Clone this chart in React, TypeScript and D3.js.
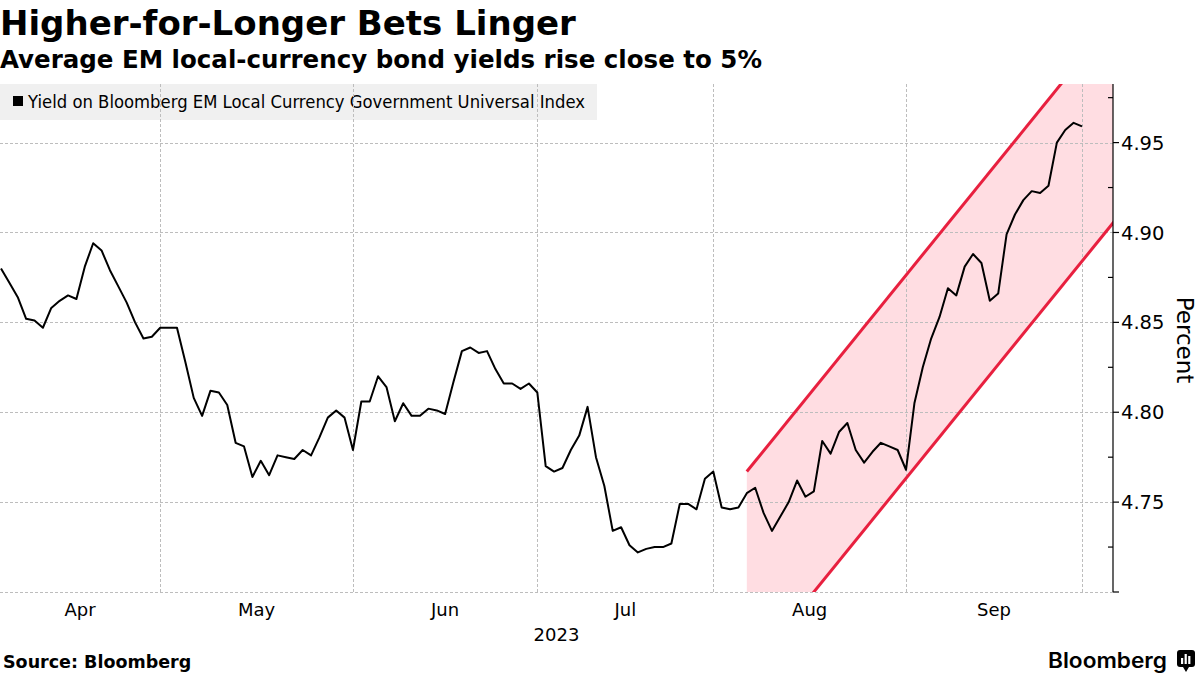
import { useMemo } from "react";
import * as d3 from "d3";

const WIDTH = 1200;
const HEIGHT = 675;
const FONT = "'DejaVu Sans', Verdana, sans-serif";

// plot box
const LEFT = 0;
const RIGHT = 1113;
const TOP = 84;
const BOTTOM = 592;

// one value per weekday, Apr 3 .. Sep 29 2023
const yields = [
  4.880, 4.872, 4.864, 4.852, 4.851, 4.847, 4.858, 4.862, 4.865, 4.863,
  4.881, 4.894, 4.890, 4.879, 4.870, 4.861, 4.850, 4.841, 4.842, 4.847,
  4.847, 4.847, 4.828, 4.808, 4.798, 4.812, 4.811, 4.804, 4.783, 4.781,
  4.764, 4.773, 4.765, 4.776, 4.775, 4.774, 4.779, 4.776, 4.786, 4.797,
  4.801, 4.797, 4.779, 4.806, 4.806, 4.820, 4.814, 4.795, 4.805, 4.798,
  4.798, 4.802, 4.801, 4.799, 4.817, 4.834, 4.836, 4.833, 4.834, 4.824,
  4.816, 4.816, 4.813, 4.816, 4.811, 4.770, 4.767, 4.769, 4.779, 4.787,
  4.803, 4.775, 4.759, 4.734, 4.736, 4.726, 4.722, 4.724, 4.725, 4.725,
  4.727, 4.749, 4.749, 4.746, 4.763, 4.767, 4.747, 4.746, 4.747, 4.755,
  4.758, 4.744, 4.734, 4.742, 4.750, 4.762, 4.753, 4.756, 4.784, 4.777,
  4.789, 4.794, 4.779, 4.772, 4.778, 4.783, 4.781, 4.779, 4.768, 4.805,
  4.825, 4.841, 4.853, 4.869, 4.865, 4.881, 4.888, 4.883, 4.862, 4.866,
  4.899, 4.910, 4.918, 4.923, 4.922, 4.926, 4.950, 4.957, 4.961, 4.959,
];

const firstDay = "2023-04-03";
const axisEndDay = "2023-10-07";

const monthEnds = ["2023-04-28", "2023-05-31", "2023-06-30", "2023-07-31", "2023-08-31", "2023-09-29"];
const monthLabels = ["Apr", "May", "Jun", "Jul", "Aug", "Sep"];
const yearLabel = "2023";

const yTicks = [4.75, 4.8, 4.85, 4.9, 4.95];
const yMinorTicks = [4.725, 4.775, 4.825, 4.875, 4.925, 4.975];
const yGrid = [4.7, 4.75, 4.8, 4.85, 4.9, 4.95];
const yDomain = [4.7, 4.9826];

// trend channel drawn on the chart
const channelDates = ["2023-08-04", "2023-10-05"];
const channelUpper = [4.767, 5.02];
const channelLower = [4.654, 4.907];

const fmtDay = d3.utcFormat("%Y-%m-%d");

export default function App() {
  const days = useMemo(
    () =>
      d3
        .utcDay.range(new Date(firstDay), new Date(axisEndDay))
        .filter((d) => d.getUTCDay() % 6 !== 0)
        .map(fmtDay),
    []
  );
  const dayIndex = (s: string) => days.indexOf(s);

  const x = d3.scaleLinear().domain([0, yields.length - 1]).range([1, 1082]);
  const y = d3.scaleLinear().domain(yDomain).range([BOTTOM, TOP]);

  const line = d3
    .line<number>()
    .x((_, i) => x(i))
    .y((d) => y(d));

  const cx = channelDates.map((d) => x(dayIndex(d)));
  const upperPts: [number, number][] = cx.map((v, i) => [v, y(channelUpper[i])]);
  const lowerPts: [number, number][] = cx.map((v, i) => [v, y(channelLower[i])]);
  const band = [...upperPts, ...lowerPts.slice().reverse()];
  const straight = d3.line();

  const gridX = monthEnds.map((d) => x(dayIndex(d)));
  const labelX = gridX.map((gx, i) => ((i === 0 ? LEFT : gridX[i - 1]) + gx) / 2);

  return (
    <div style={{ position: "absolute", left: 0, top: 0 }}>
      <svg width={WIDTH} height={HEIGHT} style={{ display: "block", background: "#fff" }} fontFamily={FONT}>
        <defs>
          <clipPath id="plot">
            <rect x={LEFT} y={TOP} width={RIGHT - LEFT} height={BOTTOM - TOP} />
          </clipPath>
        </defs>

        <text x={0} y={35} fontSize={34} fontWeight="bold" fill="#000">
          Higher-for-Longer Bets Linger
        </text>
        <text x={0} y={68} fontSize={24.5} fontWeight="bold" fill="#000">
          Average EM local-currency bond yields rise close to 5%
        </text>

        {/* legend */}
        <rect x={0} y={TOP} width={597} height={36} fill="#000" fillOpacity={0.06} />
        <rect x={13} y={96} width={10} height={10} fill="#000" />
        <text x={28} y={108} fontSize={18} fill="#000" textLength={557} lengthAdjust="spacingAndGlyphs">
          Yield on Bloomberg EM Local Currency Government Universal Index
        </text>

        {/* channel fill */}
        <g clipPath="url(#plot)">
          <path d={straight(band) + "Z"} fill="#ffdde2" />
        </g>

        {/* grid */}
        <g stroke="#bdbdbd" strokeWidth={1} strokeDasharray="3 2">
          {yGrid.map((v) => (
            <line key={v} x1={LEFT} x2={RIGHT} y1={Math.round(y(v)) + 0.5} y2={Math.round(y(v)) + 0.5} />
          ))}
          {gridX.map((gx, i) => (
            <line key={i} x1={Math.round(gx) + 0.5} x2={Math.round(gx) + 0.5} y1={TOP} y2={BOTTOM} />
          ))}
        </g>

        <g clipPath="url(#plot)" stroke="#e8203f" strokeWidth={3} fill="none">
          <path d={straight(upperPts) || ""} />
          <path d={straight(lowerPts) || ""} />
        </g>

        <path d={line(yields) || ""} fill="none" stroke="#000" strokeWidth={2} strokeLinejoin="round" />

        {/* right axis */}
        <g stroke="#000" strokeWidth={1.2}>
          <line x1={RIGHT} x2={RIGHT} y1={TOP} y2={BOTTOM} />
          {[yDomain[0], ...yTicks].map((v) => (
            <line key={v} x1={RIGHT} x2={RIGHT + 6} y1={y(v)} y2={y(v)} />
          ))}
          {yMinorTicks.map((v) => (
            <line key={v} x1={RIGHT - 5} x2={RIGHT} y1={y(v)} y2={y(v)} />
          ))}
        </g>
        {yTicks.map((v) => (
          <text key={v} x={RIGHT + 8} y={y(v)} dy="0.36em" fontSize={19.5} fill="#000">
            {d3.format(".2f")(v)}
          </text>
        ))}
        <text
          transform={`translate(1177,${(TOP + BOTTOM) / 2 + 2}) rotate(90)`}
          textAnchor="middle"
          fontSize={23}
          fill="#000"
        >
          Percent
        </text>

        {/* x labels */}
        {monthLabels.map((m, i) => (
          <text key={m} x={labelX[i]} y={616} textAnchor="middle" fontSize={18} fill="#000">
            {m}
          </text>
        ))}
        <text x={(LEFT + RIGHT) / 2} y={641} textAnchor="middle" fontSize={18} fill="#000">
          {yearLabel}
        </text>

        <text x={3} y={668} fontSize={17.5} fontWeight="bold" fill="#000">
          Source:  Bloomberg
        </text>

        {/* logo */}
        <text x={1048} y={668} fontSize={21} fontWeight={600} fill="#000" fontFamily="Inter, 'DejaVu Sans', sans-serif" textLength={119} lengthAdjust="spacingAndGlyphs">
          Bloomberg
        </text>
        <g>
          <rect x={1177} y={650} width={18} height={17} rx={3} fill="#000" />
          <path d="M1183,667 L1186,672 L1189,667 Z" fill="#000" />
          <rect x={1181} y={658} width={2.2} height={6} fill="#fff" />
          <rect x={1184.6} y={654} width={2.2} height={10} fill="#fff" />
          <rect x={1188.2} y={656} width={2.2} height={8} fill="#fff" />
        </g>
      </svg>
    </div>
  );
}
